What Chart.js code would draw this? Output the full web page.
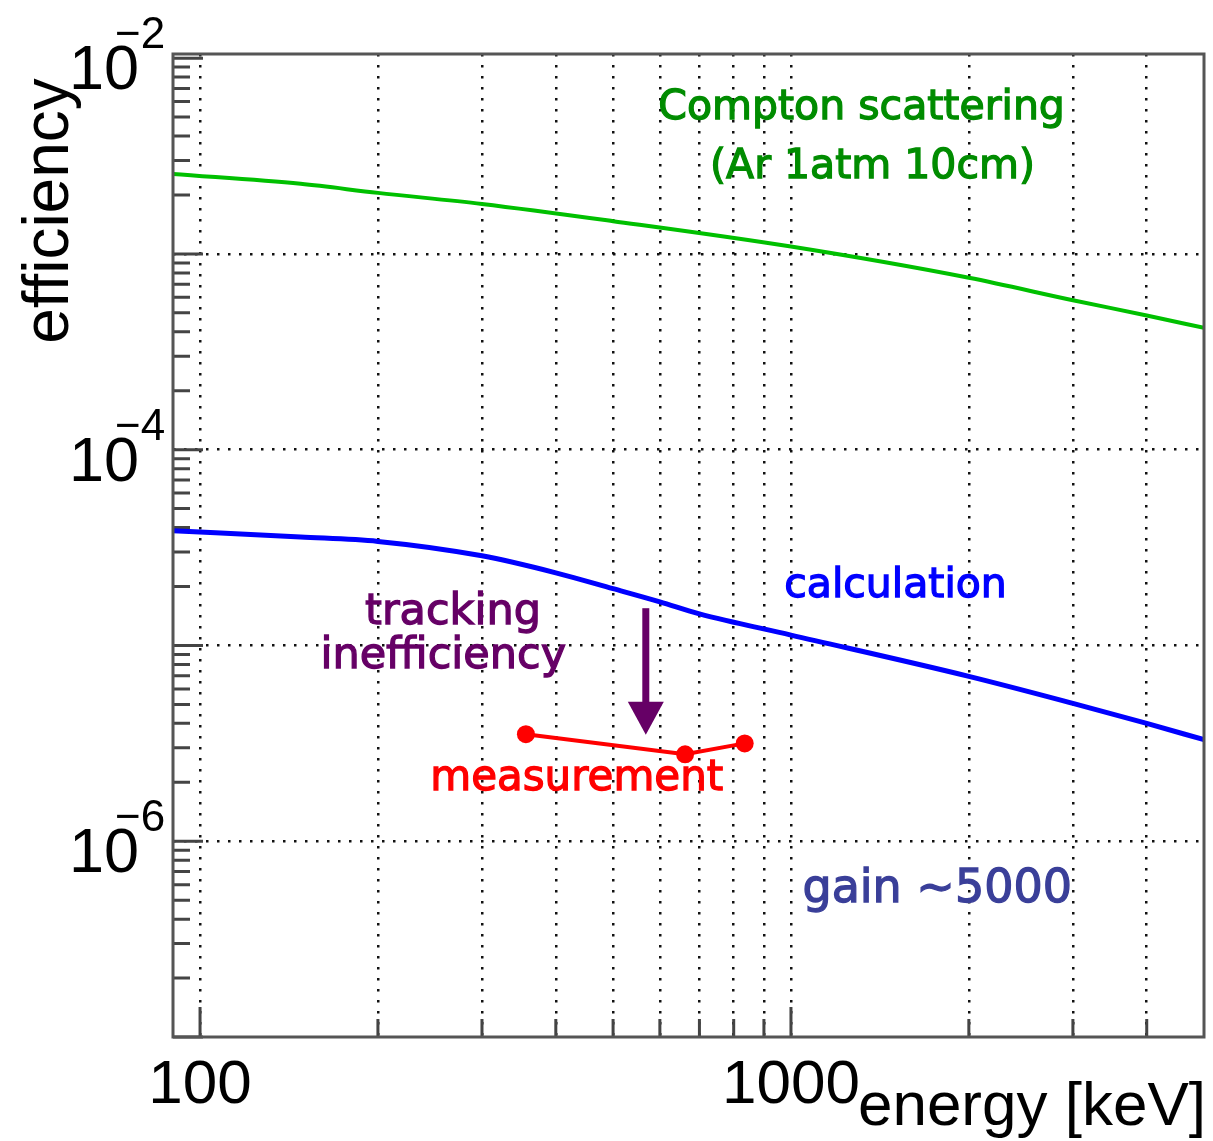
<!DOCTYPE html>
<html lang="en">
<head>
<meta charset="UTF-8">
<title>efficiency vs energy</title>
<script src="https://cdn.jsdelivr.net/npm/chart.js"></script>
<style>
  html, body { margin: 0; padding: 0; background: #fff; }
  #wrap { width: 1213px; height: 1141px; }
</style>
</head>
<body>
<div id="wrap"><canvas id="effChart" width="1213" height="1141"></canvas></div>
<script>
// values (keV, efficiency)
const energyCompton = [90, 148, 200, 300, 500, 1000, 2000, 3000, 4000, 5000];
const effCompton = [2.56e-3, 2.28e-3, 2.05e-3, 1.80e-3, 1.47e-3, 1.09e-3, 7.55e-4, 5.8e-4, 4.85e-4, 4.19e-4];

const energyCalc = [90, 148, 200, 300, 400, 500, 600, 700, 1000, 2000, 3000, 4000, 5000];
const effCalc = [3.86e-5, 3.58e-5, 3.40e-5, 2.87e-5, 2.35e-5, 1.95e-5, 1.67e-5, 1.45e-5, 1.13e-5, 6.95e-6, 5.06e-6, 4.0e-6, 3.3e-6];

const energyMeas = [356, 662, 835];
const effMeas = [3.52e-6, 2.78e-6, 3.16e-6];

// "tracking inefficiency" arrow
const arrowEnergy = 568;
const arrowFrom = 1.55e-5;
const arrowTo = 3.5e-6;

// axes
const xGridValues = [100, 200, 300, 400, 500, 600, 700, 800, 900, 1000, 2000, 3000, 4000];
const xTickLabels = ['100', '1000'];
const yDecadeExps = [-7, -6, -5, -4, -3, -2];
const yLabelExps = [-2, -4, -6];
const yGridExps = [-6, -5, -4, -3];

const toXY = (xs, ys) => xs.map((v, i) => ({ x: v, y: ys[i] }));

// minor ticks on the y axis: 1..9 x each decade
const yTickValues = [];
yDecadeExps.forEach(e => {
    if (e === -2) { yTickValues.push(1e-2); return; }
    for (let m = 1; m <= 9; m++) yTickValues.push(m * Math.pow(10, e));
});
const isDecade = v => Math.abs(Math.log10(v) - Math.round(Math.log10(v))) < 1e-6;

const notes = [
    { text: 'Compton scattering', x: 1317, y: 4.88e-3, color: '#008c00', size: 41 },
    { text: '(Ar 1atm 10cm)', x: 1374, y: 2.44e-3, color: '#008c00', size: 41 },
    { text: 'calculation', x: 1503, y: 1.76e-5, color: '#0000ff', size: 41 },
    { text: 'tracking', x: 268, y: 1.29e-5, color: '#660066', size: 43 },
    { text: 'inefficiency', x: 258, y: 7.64e-6, color: '#660066', size: 43 },
    { text: 'measurement', x: 434, y: 1.82e-6, color: '#ff0000', size: 42 },
    { text: 'gain ~5000', x: 1768, y: 4.89e-7, color: '#3a3f99', size: 46 }
];

const axisFont = '"Liberation Sans", Arial, sans-serif';
const noteFont = '"DejaVu Sans", Verdana, sans-serif';

const decor = {
    id: 'decor',
    beforeDatasetsDraw(chart) {
        const { ctx, chartArea: a, scales: { x, y } } = chart;
        ctx.save();
        ctx.strokeStyle = '#444';
        ctx.lineWidth = 3;
        ctx.beginPath();
        yTickValues.forEach(v => {
            const py = y.getPixelForValue(v);
            const len = isDecade(v) ? 30 : 17;
            ctx.moveTo(a.left, py);
            ctx.lineTo(a.left + len, py);
        });
        xGridValues.forEach(v => {
            const px = x.getPixelForValue(v);
            const len = (v === 100 || v === 1000) ? 30 : 18;
            ctx.moveTo(px, a.bottom);
            ctx.lineTo(px, a.bottom - len);
        });
        ctx.stroke();
        ctx.restore();
    },
    afterDatasetsDraw(chart) {
        const { ctx, chartArea: a, scales: { x, y } } = chart;
        ctx.save();

        // arrow
        const ax = x.getPixelForValue(arrowEnergy);
        const ay0 = y.getPixelForValue(arrowFrom);
        const ay1 = y.getPixelForValue(arrowTo);
        ctx.strokeStyle = '#660066';
        ctx.fillStyle = '#660066';
        ctx.lineWidth = 7;
        ctx.beginPath();
        ctx.moveTo(ax, ay0);
        ctx.lineTo(ax, ay1 - 30);
        ctx.stroke();
        ctx.beginPath();
        ctx.moveTo(ax - 18, ay1 - 33);
        ctx.lineTo(ax + 18, ay1 - 33);
        ctx.lineTo(ax, ay1);
        ctx.closePath();
        ctx.fill();

        // notes (a thin stroke makes them as heavy as the original)
        ctx.textAlign = 'center';
        ctx.textBaseline = 'alphabetic';
        ctx.lineWidth = 1.3;
        notes.forEach(n => {
            ctx.font = n.size + 'px ' + noteFont;
            ctx.fillStyle = n.color;
            ctx.strokeStyle = n.color;
            const px = x.getPixelForValue(n.x), py = y.getPixelForValue(n.y);
            ctx.fillText(n.text, px, py);
            ctx.strokeText(n.text, px, py);
        });

        // frame
        ctx.strokeStyle = '#555';
        ctx.lineWidth = 3;
        ctx.strokeRect(a.left, a.top, a.right - a.left, a.bottom - a.top);
        ctx.restore();
    },
    afterDraw(chart) {
        const { ctx, scales: { x, y } } = chart;
        ctx.save();
        ctx.fillStyle = '#000';
        ctx.textBaseline = 'alphabetic';

        // y labels 10^n
        yLabelExps.forEach(e => {
            const py = y.getPixelForValue(Math.pow(10, e));
            ctx.font = '63px ' + axisFont;
            ctx.textAlign = 'right';
            ctx.fillText('10', 139, py + 31);
            ctx.font = '44px ' + axisFont;
            ctx.textAlign = 'left';
            ctx.fillText('\u2212' + Math.abs(e), 115, py - 10);
        });

        // x labels
        ctx.font = '62px ' + axisFont;
        ctx.textAlign = 'center';
        xTickLabels.forEach(t => {
            ctx.fillText(t, x.getPixelForValue(Number(t)), 1103);
        });

        // axis titles
        ctx.textAlign = 'right';
        ctx.fillText('energy [keV]', 1206, 1125);
        ctx.translate(68, 211);
        ctx.rotate(-Math.PI / 2);
        ctx.textAlign = 'center';
        ctx.font = '64px ' + axisFont;
        ctx.fillText('efficiency', 0, 0);
        ctx.restore();
    }
};

const gridColor = (exps) => (c) => {
    if (!c.tick) return 'rgba(0,0,0,0)';
    const e = Math.round(Math.log10(c.tick.value));
    return exps.includes(e) && isDecade(c.tick.value) ? '#111' : 'rgba(0,0,0,0)';
};

const chart = new Chart(document.getElementById('effChart'), {
    type: 'line',
    data: {
        datasets: [
            {
                label: 'Compton scattering',
                data: toXY(energyCompton, effCompton),
                borderColor: '#00c000',
                borderWidth: 4,
                pointRadius: 0,
                cubicInterpolationMode: 'monotone'
            },
            {
                label: 'calculation',
                data: toXY(energyCalc, effCalc),
                borderColor: '#0000ff',
                borderWidth: 5,
                pointRadius: 0,
                cubicInterpolationMode: 'monotone'
            },
            {
                label: 'measurement',
                data: toXY(energyMeas, effMeas),
                borderColor: '#ff0000',
                backgroundColor: '#ff0000',
                borderWidth: 4,
                pointRadius: 9,
                pointBorderWidth: 0,
                tension: 0
            }
        ]
    },
    options: {
        responsive: false,
        animation: false,
        layout: { padding: { left: 0, top: 54, right: 6, bottom: 0 } },
        plugins: { legend: { display: false }, tooltip: { enabled: false } },
        scales: {
            x: {
                type: 'logarithmic',
                min: 90,
                max: 5000,
                afterBuildTicks: s => { s.ticks = xGridValues.map(v => ({ value: v })); },
                afterFit: s => { s.height = 104; },
                ticks: { display: false },
                grid: { color: '#111', lineWidth: 2.5, drawTicks: false },
                border: { display: false, dash: [2.5, 8.5] }
            },
            y: {
                type: 'logarithmic',
                min: 1e-7,
                max: 1.05e-2,
                afterBuildTicks: s => { s.ticks = yDecadeExps.map(e => ({ value: Math.pow(10, e) })); },
                afterFit: s => { s.width = 173; },
                ticks: { display: false },
                grid: { color: gridColor(yGridExps), lineWidth: 2.5, drawTicks: false },
                border: { display: false, dash: [2.5, 8.5] }
            }
        }
    },
    plugins: [decor]
});
</script>
</body>
</html>
